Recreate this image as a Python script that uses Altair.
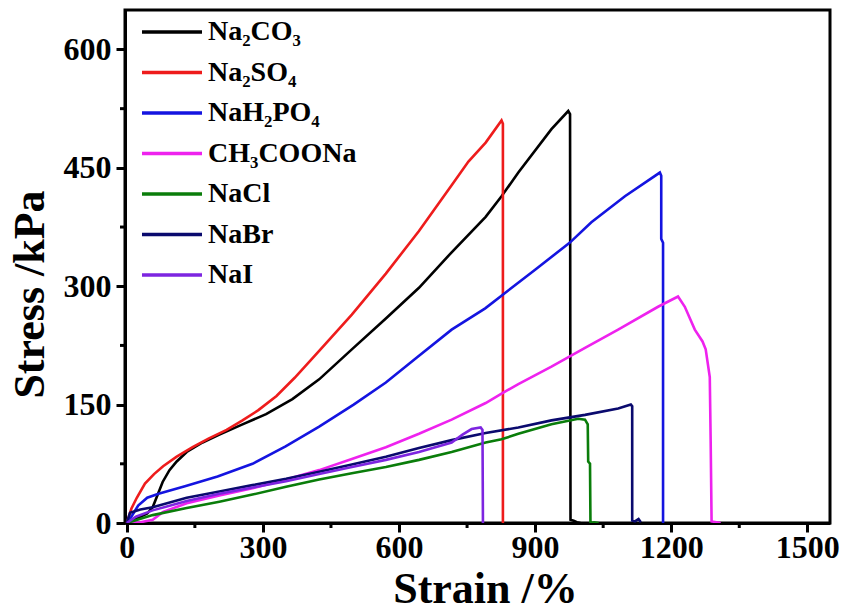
import altair as alt
import pandas as pd

# ---- data (strain %, stress kPa) ----
series_names = ["Na₂CO₃", "Na₂SO₄", "NaH₂PO₄", "CH₃COONa", "NaCl", "NaBr", "NaI"]
series_colors = ["#000000", "#ee1c1c", "#1414e0", "#ee22ee", "#0a7d0a", "#0a0a6e", "#7d25e0"]

na2co3_x = [0, 20, 45, 57, 66, 79, 94, 110, 132, 167, 204, 255, 307, 365, 424, 496, 571, 644, 716, 791, 826, 863, 936, 973, 977, 978, 985, 992, 1000]
na2co3_y = [0, 5, 12, 20, 33, 52, 67, 78, 90, 102, 112, 125, 138, 157, 182, 220, 259, 298, 343, 388, 414, 444, 499, 522, 518, 4, 3, 1, 0]

na2so4_x = [0, 10, 22, 40, 60, 80, 110, 145, 180, 220, 255, 290, 330, 370, 424, 496, 571, 644, 716, 753, 791, 826, 829, 829]
na2so4_y = [0, 18, 32, 50, 62, 72, 84, 96, 107, 118, 130, 143, 161, 184, 218, 264, 316, 370, 428, 458, 482, 510, 506, 0]

nah2po4_x = [0, 10, 25, 45, 70, 130, 200, 277, 350, 424, 500, 571, 640, 716, 790, 828, 900, 976, 1024, 1098, 1175, 1178, 1178, 1182, 1182]
nah2po4_y = [0, 8, 22, 32, 37, 47, 59, 75, 97, 122, 150, 178, 210, 245, 272, 289, 321, 355, 381, 414, 444, 440, 360, 355, 0]

ch3coona_x = [0, 30, 57, 80, 132, 204, 277, 351, 424, 496, 571, 644, 716, 791, 826, 863, 936, 1010, 1083, 1171, 1215, 1230, 1252, 1269, 1276, 1285, 1287, 1289, 1300, 1309]
ch3coona_y = [0, 1, 4, 14, 25, 35, 44, 55, 67, 81, 96, 113, 131, 152, 164, 176, 198, 222, 245, 274, 287, 274, 245, 230, 220, 185, 102, 2, 1, 0]

nacl_x = [0, 57, 132, 204, 277, 351, 424, 496, 571, 644, 716, 791, 826, 863, 936, 995, 1010, 1016, 1017, 1021, 1022, 1030, 1040]
nacl_y = [0, 10, 19, 27, 36, 46, 55, 63, 71, 80, 90, 102, 106, 113, 125, 132, 131, 125, 78, 75, 0, 1, 0]

nabr_x = [0, 7, 30, 57, 132, 204, 277, 351, 424, 496, 571, 644, 716, 791, 863, 936, 1010, 1083, 1111, 1114, 1114, 1120, 1128, 1133]
nabr_y = [0, 13, 17, 20, 32, 40, 48, 56, 65, 74, 84, 95, 105, 114, 121, 130, 137, 145, 150, 148, 3, 2, 5, 1]

nai_x = [0, 20, 57, 132, 204, 277, 351, 424, 496, 571, 644, 716, 740, 760, 780, 784, 785]
nai_y = [0, 8, 16, 28, 37, 45, 53, 62, 71, 80, 90, 102, 112, 119, 121, 118, 0]

x_major = [0, 300, 600, 900, 1200, 1500]
x_minor = [150, 450, 750, 1050, 1350]
y_major = [0, 150, 300, 450, 600]
y_minor = [75, 225, 375, 525]

X_MIN, X_MAX = -4, 1550
Y_MIN, Y_MAX = 0, 650

xs = [na2co3_x, na2so4_x, nah2po4_x, ch3coona_x, nacl_x, nabr_x, nai_x]
ys = [na2co3_y, na2so4_y, nah2po4_y, ch3coona_y, nacl_y, nabr_y, nai_y]

rows = []
for name, sx, sy in zip(series_names, xs, ys):
    for i, (a, b) in enumerate(zip(sx, sy)):
        rows.append({"salt": name, "strain": a, "stress": b, "idx": i})
df = pd.DataFrame(rows)

FONT = "Liberation Serif"
W, H = 705, 513

xscale = alt.Scale(domain=[X_MIN, X_MAX], nice=False, zero=False)
yscale = alt.Scale(domain=[Y_MIN, Y_MAX], nice=False)

x_axis = alt.Axis(values=x_major, format="d", title="Strain /%", orient="bottom",
                  tickSize=9, tickWidth=3, labelPadding=0,
                  titleX=360, titleY=79, titleBaseline="alphabetic",
                  titleAlign="center")
y_axis = alt.Axis(values=y_major, format="d", title="Stress /kPa", orient="left",
                  tickSize=9, tickWidth=3, labelPadding=5,
                  titleX=-82, titleY=284, titleBaseline="alphabetic",
                  titleAlign="center", titleAngle=-90)

lines = alt.Chart(df).mark_line(strokeWidth=2.6, clip=True).encode(
    x=alt.X("strain:Q", scale=xscale, axis=x_axis, title="Strain /%"),
    y=alt.Y("stress:Q", scale=yscale, axis=y_axis, title="Stress /kPa"),
    color=alt.Color("salt:N",
                    scale=alt.Scale(domain=series_names, range=series_colors),
                    legend=alt.Legend(orient="none", legendX=25, legendY=0,
                                      title=None, padding=0, offset=0,
                                      symbolType="M-1.5,0H1.5", symbolSize=1600,
                                      symbolStrokeWidth=3.5, labelOffset=14,
                                      labelFont=FONT, labelFontSize=28,
                                      labelFontWeight="bold", labelColor="black",
                                      rowPadding=4.5, labelLimit=300)),
    detail="salt:N",
    order=alt.Order("idx:Q"),
)

# minor tick marks (5 px long, outside the frame), placed through the scales
minor_len_y = 5 * (Y_MAX - Y_MIN) / H
minor_len_x = 5 * (X_MAX - X_MIN) / W

xminor_df = pd.DataFrame({"strain": x_minor, "stress": [Y_MIN] * len(x_minor),
                          "stress_end": [Y_MIN - minor_len_y] * len(x_minor)})
yminor_df = pd.DataFrame({"stress": y_minor, "strain": [X_MIN] * len(y_minor),
                          "strain_end": [X_MIN - minor_len_x] * len(y_minor)})

xminor = alt.Chart(xminor_df).mark_rule(color="black", strokeWidth=3).encode(
    x=alt.X("strain:Q", scale=xscale, axis=x_axis, title="Strain /%"),
    y=alt.Y("stress:Q", scale=yscale, axis=y_axis, title="Stress /kPa"),
    y2="stress_end:Q",
)
yminor = alt.Chart(yminor_df).mark_rule(color="black", strokeWidth=3).encode(
    y=alt.Y("stress:Q", scale=yscale, axis=y_axis, title="Stress /kPa"),
    x=alt.X("strain:Q", scale=xscale, axis=x_axis, title="Strain /%"),
    x2="strain_end:Q",
)

chart = alt.layer(lines, xminor, yminor).properties(
    width=W, height=H,
    padding={"left": 125, "top": 10, "right": 14, "bottom": 88},
    autosize=alt.AutoSizeParams(type="none"),
    background="white",
).configure_view(
    stroke="black", strokeWidth=3,
).configure_axis(
    grid=False, domainColor="black", domainWidth=3, tickColor="black",
    labelColor="black", titleColor="black",
    labelFont=FONT, labelFontSize=32, labelFontWeight="bold",
    titleFont=FONT, titleFontSize=44, titleFontWeight="bold",
)

chart.save("out.html", embed_options={"renderer": "svg", "actions": False})
